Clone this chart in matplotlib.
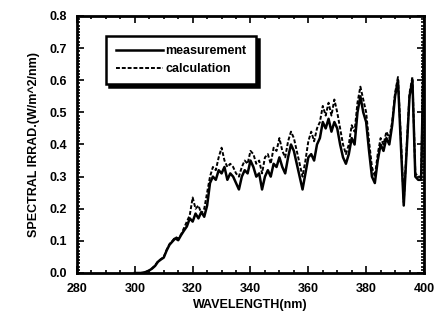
import numpy as np
import matplotlib.pyplot as plt
from matplotlib.ticker import MultipleLocator

# dados (nm, W/m^2/nm)
wavelength = list(range(300, 401))

measurement = [
    0.0, 0.0, 0.0, 0.001, 0.004, 0.008, 0.014, 0.022, 0.035, 0.042,
    0.048, 0.07, 0.088, 0.098, 0.108, 0.102, 0.118, 0.132, 0.145, 0.17,
    0.16, 0.185, 0.17, 0.19, 0.175, 0.21, 0.28, 0.30, 0.29, 0.32,
    0.31, 0.33, 0.29, 0.31, 0.30, 0.28, 0.26, 0.30, 0.32, 0.31,
    0.35, 0.33, 0.30, 0.31, 0.26, 0.30, 0.32, 0.30, 0.34, 0.33,
    0.36, 0.33, 0.31, 0.36, 0.40, 0.38, 0.34, 0.30, 0.26, 0.31,
    0.36, 0.37, 0.35, 0.40, 0.42, 0.47, 0.45, 0.48, 0.44, 0.47,
    0.45, 0.40, 0.36, 0.34, 0.37, 0.42, 0.40, 0.50, 0.55, 0.50,
    0.47, 0.38, 0.30, 0.28, 0.35, 0.40, 0.38, 0.42, 0.40, 0.46,
    0.55, 0.60, 0.40, 0.21, 0.38, 0.55, 0.60, 0.30, 0.29, 0.29,
    0.74,
]

calculation = [
    0.0, 0.0, 0.0, 0.001, 0.004, 0.008, 0.015, 0.024, 0.036, 0.043,
    0.05, 0.072, 0.09, 0.10, 0.112, 0.108, 0.12, 0.14, 0.16, 0.18,
    0.235, 0.20, 0.21, 0.185, 0.20, 0.25, 0.30, 0.33, 0.32, 0.36,
    0.39, 0.35, 0.33, 0.34, 0.33, 0.31, 0.30, 0.33, 0.35, 0.34,
    0.38, 0.37, 0.34, 0.35, 0.31, 0.36, 0.37, 0.34, 0.39, 0.38,
    0.42, 0.38, 0.36, 0.41, 0.44, 0.42, 0.38, 0.34, 0.30, 0.35,
    0.41, 0.44, 0.41, 0.45, 0.47, 0.52, 0.49, 0.53, 0.49, 0.54,
    0.50, 0.45, 0.40, 0.37, 0.40, 0.46, 0.44, 0.53, 0.58, 0.54,
    0.50, 0.41, 0.33, 0.30, 0.37, 0.42, 0.40, 0.44, 0.42, 0.47,
    0.56, 0.61, 0.42, 0.22, 0.39, 0.56, 0.61, 0.31, 0.30, 0.30,
    0.75,
]

plt.rcParams['font.family'] = ['Liberation Sans', 'DejaVu Sans']
plt.rcParams['font.weight'] = 'bold'
fs = 9

fig = plt.figure(figsize=(4.39, 3.23), dpi=100)
ax = fig.add_axes([0.1754, 0.1548, 0.7904, 0.7957])

ax.plot(wavelength, measurement, color='black', lw=1.8, label='measurement')
ax.plot(wavelength, calculation, color='black', lw=1.4, ls=(0, (2, 1)),
        label='calculation')

ax.set_xlim(280, 400)
ax.set_ylim(0, 0.8)
ax.xaxis.set_major_locator(MultipleLocator(20))
ax.xaxis.set_minor_locator(MultipleLocator(5))
ax.yaxis.set_minor_locator(MultipleLocator(0.01))
ax.set_yticks(np.arange(0, 0.81, 0.1))
ax.set_yticklabels(['0.0', '0.1', '0.2', '0.3', '0.4', '0.5', '0.6', '0.7', '0.8'])

ax.tick_params(which='both', direction='in', top=True, right=True,
               labelsize=fs, width=1.2, color='black')
ax.tick_params(which='major', length=5, pad=7)
ax.tick_params(which='minor', length=2.5)
for lab in ax.get_xticklabels() + ax.get_yticklabels():
    lab.set_fontweight('bold')
for s in ax.spines.values():
    s.set_linewidth(2)

ax.set_xlabel('WAVELENGTH(nm)', fontsize=fs, fontweight='bold', labelpad=3)
ax.set_ylabel('SPECTRAL IRRAD.(W/m^2/nm)', fontsize=fs, fontweight='bold',
              labelpad=7)

leg = ax.legend(loc='upper left', bbox_to_anchor=(0.084, 0.922),
                fancybox=False, edgecolor='black', framealpha=1,
                shadow={'color': 'black', 'alpha': 1, 'ox': 2, 'oy': -2},
                prop={'weight': 'bold', 'size': fs}, handlelength=3.8,
                borderpad=0.75, labelspacing=0.45, handletextpad=0.2,
                borderaxespad=0)
leg.get_frame().set_linewidth(1.8)

fig.savefig('out.png', dpi=100)
